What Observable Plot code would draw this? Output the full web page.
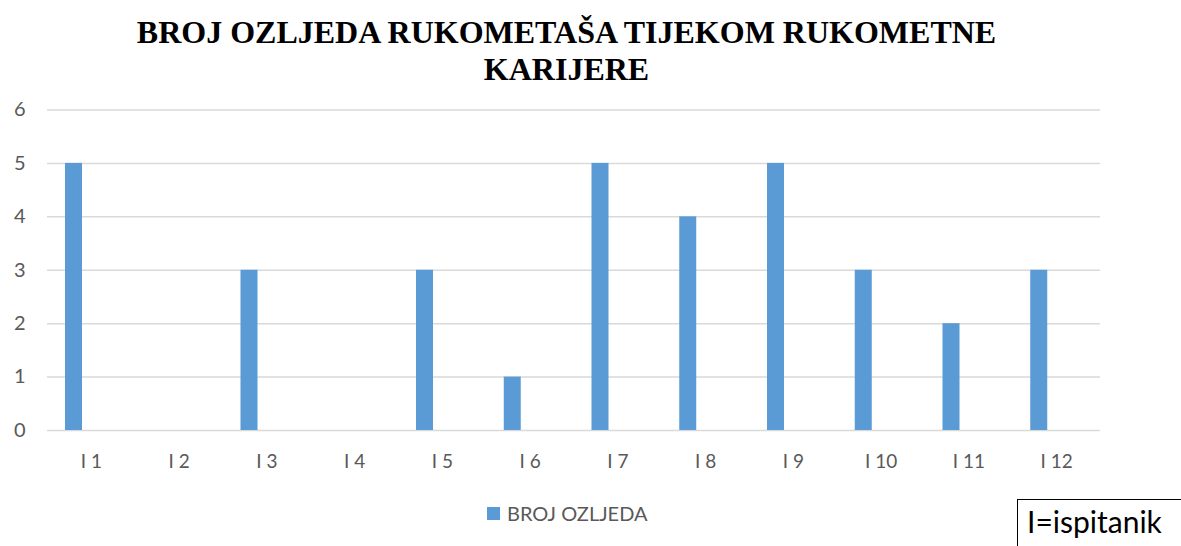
<!DOCTYPE html>
<html>
<head>
<meta charset="utf-8">
<script src="https://cdn.jsdelivr.net/npm/d3@7"></script>
<script src="https://cdn.jsdelivr.net/npm/@observablehq/plot@0.6"></script>
<style>
  html, body { margin: 0; padding: 0; background: #fff; overflow: hidden; }
  #wrap { position: relative; width: 1181px; height: 546px; overflow: hidden; }
  #title { position: absolute; left: 0; top: 14px; width: 1133px; text-align: center;
    font-family: "Liberation Serif", "Times New Roman", serif; font-weight: bold; font-size: 32px; line-height: 37px; color: #000; }
  #chart { position: absolute; left: 0; top: 90px; }
  #legend { position: absolute; left: 487px; top: 501px; font-family: Lato, sans-serif; font-size: 20px; color: #595959; display: flex; align-items: center; }
  #legend .sw { width: 13px; height: 13px; background: #5b9bd5; margin-right: 7px; }
  #note { position: absolute; left: 1017px; top: 499px; width: 200px; height: 80px; border: 1.5px solid #000; box-sizing: border-box;
    font-family: Lato, sans-serif; font-size: 30px; color: #000; padding: 3px 0 0 9px; }
</style>
</head>
<body>
<div id="wrap">
  <div id="title">BROJ OZLJEDA RUKOMETAŠA TIJEKOM RUKOMETNE<br>KARIJERE</div>
  <div id="chart"></div>
  <div id="legend"><div class="sw"></div><span id="legtext"></span></div>
  <div id="note">I=ispitanik</div>
</div>
<script>
const categories = ["I 1","I 2","I 3","I 4","I 5","I 6","I 7","I 8","I 9","I 10","I 11","I 12"];
const values = [5,0,3,0,3,1,5,4,5,3,2,3];
const seriesName = "BROJ OZLJEDA";
const yTicks = [0,1,2,3,4,5,6];

document.getElementById("legtext").textContent = seriesName;

const data = categories.map((c, i) => ({cat: c, v: values[i]}));

const plot = Plot.plot({
  width: 1181,
  height: 400,
  marginTop: 19.5,
  marginBottom: 60,
  marginLeft: 47,
  marginRight: 81,
  style: {fontFamily: "Lato, sans-serif", fontSize: "20px", color: "#595959", background: "transparent"},
  x: {domain: categories, padding: 0, round: false, label: null},
  y: {domain: [0, 6], label: null},
  marks: [
    Plot.ruleY(yTicks, {stroke: "#d9d9d9", strokeWidth: 1.5}),
    Plot.barY(data, {x: "cat", y: "v", fill: "#5b9bd5", insetLeft: 18, insetRight: 52.75}),
    Plot.axisY({ticks: yTicks, tickSize: 0, tickPadding: 22, tickFormat: d => String(d), fill: "#595959"}),
    Plot.axisX({tickSize: 0, tickPadding: 24, fill: "#595959", fontSize: 19})
  ]
});
document.getElementById("chart").appendChild(plot);
</script>
</body>
</html>
